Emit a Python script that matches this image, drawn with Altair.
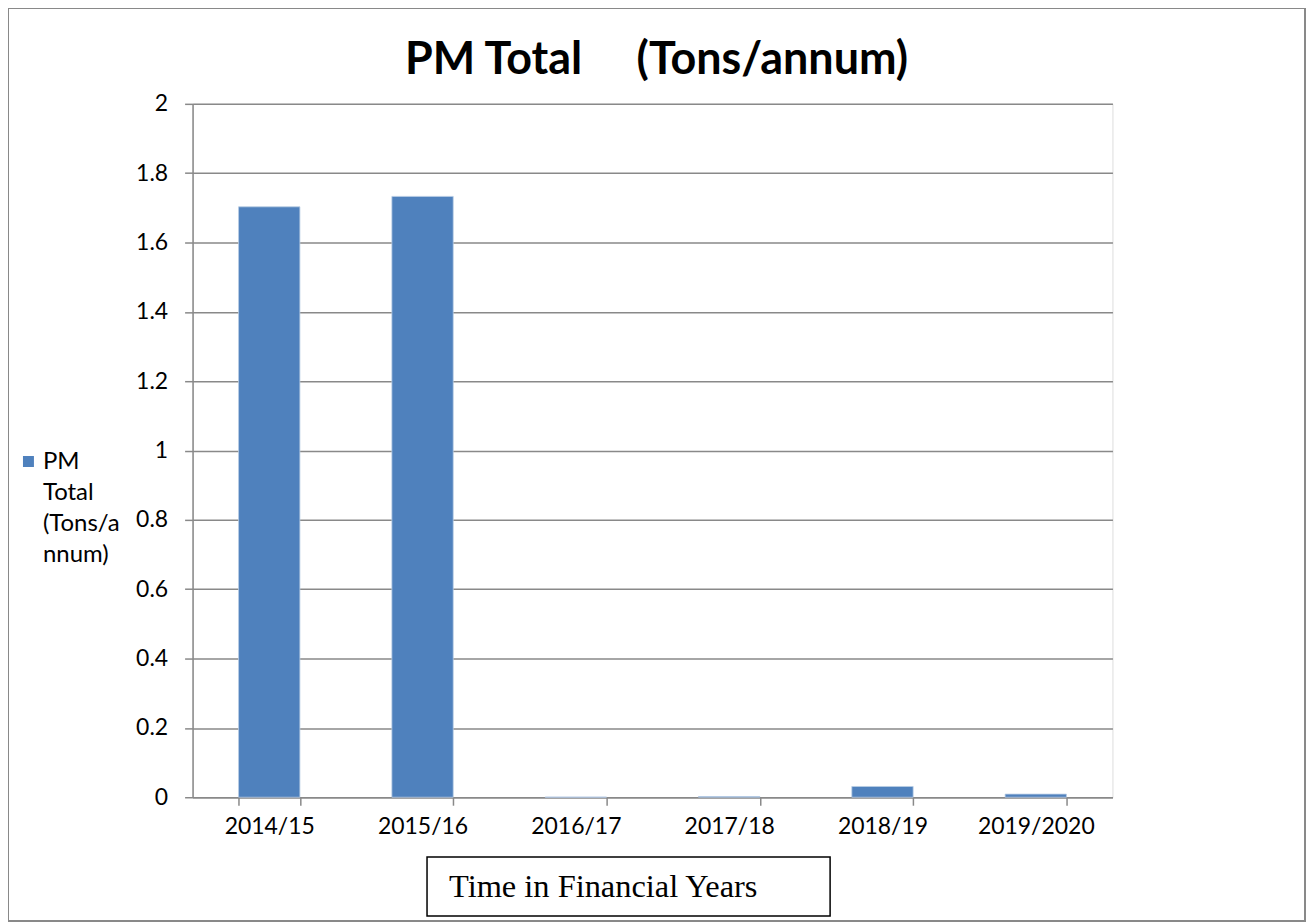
import altair as alt
import pandas as pd

years = ["2014/15", "2015/16", "2016/17", "2017/18", "2018/19", "2019/2020"]
values = [1.703, 1.733, 0.0005, 0.002, 0.031, 0.009]
y_ticks = [0, 0.2, 0.4, 0.6, 0.8, 1.0, 1.2, 1.4, 1.6, 1.8, 2.0]
title_text = "PM Total\u00a0\u00a0\u00a0\u00a0\u00a0(Tons/annum)"
x_title = "Time in Financial Years"
legend_lines = ["PM", "Total", "(Tons/a", "nnum)"]

df = pd.DataFrame({"year": years, "value": values})

FONT = "Lato"
GRAY = "#898989"
BLUE = "#4F81BD"

bars = alt.Chart(df).mark_bar(color=BLUE, stroke="#b9cde5", strokeWidth=0.8).encode(
    x=alt.X("year:N", sort=years,
            scale=alt.Scale(paddingInner=0.6, paddingOuter=0.3),
            axis=alt.Axis(title=None, labelAngle=0, tickBand="extent", grid=False,
                          domainColor=GRAY, domainWidth=1.5, tickColor=GRAY, tickWidth=1.5,
                          tickSize=8, labelPadding=10, labelFont=FONT, labelFontSize=23,
                          labelColor="black")),
    y=alt.Y("value:Q", scale=alt.Scale(domain=[0, 2], nice=False),
            axis=alt.Axis(title=None, values=y_ticks, format="~g", grid=True,
                          gridColor=GRAY, gridWidth=1.5, domainColor=GRAY, domainWidth=1.5,
                          tickColor=GRAY, tickWidth=1.5, tickSize=8, labelPadding=17,
                          labelFont=FONT, labelFontSize=23, labelColor="black")),
)

one = pd.DataFrame({"k": [0]})

border = alt.Chart(one).mark_rect(fill=None, stroke=GRAY, strokeWidth=2).encode(
    x=alt.value(-185), x2=alt.value(1115), y=alt.value(-96), y2=alt.value(819)
)

title = alt.Chart(pd.DataFrame({"t": [title_text]})).mark_text(
    font=FONT, fontSize=45, fontWeight="bold", align="center", baseline="alphabetic",
    color="black"
).encode(x=alt.value(465), y=alt.value(-30), text="t:N")

xbox = alt.Chart(one).mark_rect(fill="white", stroke="black", strokeWidth=1.5).encode(
    x=alt.value(235), x2=alt.value(639), y=alt.value(755), y2=alt.value(814)
)

xtext = alt.Chart(pd.DataFrame({"t": [x_title]})).mark_text(
    font="Liberation Serif", fontSize=32.5, align="left", baseline="alphabetic", color="black"
).encode(x=alt.value(257), y=alt.value(795), text="t:N")

legsq = alt.Chart(one).mark_square(size=121, color=BLUE, opacity=1).encode(
    x=alt.value(-164.5), y=alt.value(358.5)
)

legtext = alt.Chart(pd.DataFrame({"t": ["\n".join(legend_lines)]})).mark_text(
    font=FONT, fontSize=24, align="left", baseline="alphabetic", lineBreak="\n",
    lineHeight=31, color="black"
).encode(x=alt.value(-150), y=alt.value(366), text="t:N")

chart = alt.layer(bars, border, title, xbox, xtext, legsq, legtext).properties(
    width=922, height=695,
    padding={"left": 185, "top": 95, "right": 194, "bottom": 125},
    autosize=alt.AutoSizeParams(type="none"),
).configure_view(stroke=None).configure(background="white")

chart.save("out.html", embed_options={"renderer": "svg", "actions": False})
